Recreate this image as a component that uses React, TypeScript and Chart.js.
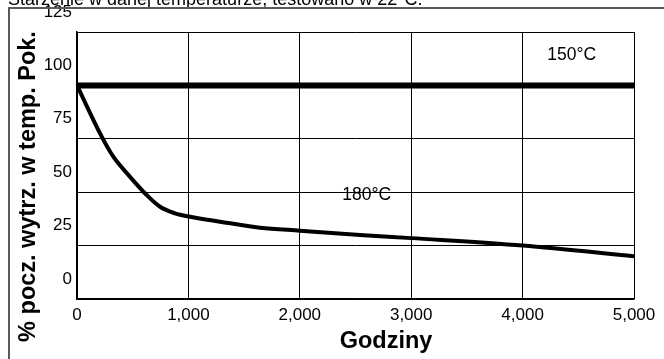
import React, { useEffect, useRef } from "react";
import { Chart, registerables } from "chart.js";

Chart.register(...registerables);

const titleText = "Starzenie w danej temperaturze, testowano w 22°C.";
const xAxisTitle = "Godziny";
const yAxisTitle = "% pocz. wytrz. w temp. Pok.";

const hours180 = [0, 222, 326, 476, 625, 745, 880, 1014, 1284, 1643, 2002, 2540, 3000, 4000, 5000];
const values180 = [100, 76, 66.6, 57.2, 48.7, 43.2, 40.1, 38.5, 36.2, 33.4, 32, 30, 28.5, 25, 20];
const hours150 = [0, 5000];
const values150 = [100, 100];

const xTicks = [0, 1000, 2000, 3000, 4000, 5000];
const xTickLabels = ["0", "1,000", "2,000", "3,000", "4,000", "5,000"];
const yTicks = [0, 25, 50, 75, 100, 125];
const yTickLabels = ["0", "25", "50", "75", "100", "125"];

const label150 = "150°C";
const label180 = "180°C";

const FONT = "'Liberation Sans', Arial, Helvetica, sans-serif";
const OFFSET_Y = 12;

const annotationPlugin = {
  id: "annotationsAndFrame",
  afterDraw(chart: any) {
    const ctx = chart.ctx;
    const area = chart.chartArea;
    ctx.save();
    // frame
    ctx.strokeStyle = "#5a5a5a";
    ctx.lineWidth = 2;
    ctx.beginPath();
    ctx.moveTo(9, chart.height);
    ctx.lineTo(9, 8 + OFFSET_Y);
    ctx.lineTo(chart.width, 8 + OFFSET_Y);
    ctx.stroke();

    ctx.fillStyle = "#000";
    ctx.textAlign = "center";
    ctx.textBaseline = "alphabetic";
    ctx.font = `17.5px ${FONT}`;
    const x = chart.scales.x;
    const y = chart.scales.y;
    ctx.fillText(label150, x.getPixelForValue(4440), y.getPixelForValue(115) + 6.5);
    ctx.fillText(label180, x.getPixelForValue(2600), y.getPixelForValue(50) + 7.5);

    ctx.font = `bold 23.5px ${FONT}`;
    ctx.fillText(xAxisTitle, 386, 348 + OFFSET_Y);

    ctx.translate(35, (area.top + area.bottom) / 2 + 21);
    ctx.rotate(-Math.PI / 2);
    ctx.fillText(yAxisTitle, 0, 0);
    ctx.restore();
  },
};

export default function App() {
  const ref = useRef<HTMLCanvasElement | null>(null);

  useEffect(() => {
    if (!ref.current) return;
    const chart = new Chart(ref.current, {
      type: "line",
      data: {
        datasets: [
          {
            label: label150,
            data: hours150.map((h, i) => ({ x: h, y: values150[i] })),
            borderColor: "#000",
            borderWidth: 6,
            pointRadius: 0,
            borderCapStyle: "butt",
          },
          {
            label: label180,
            data: hours180.map((h, i) => ({ x: h, y: values180[i] })),
            borderColor: "#000",
            borderWidth: 4,
            pointRadius: 0,
            cubicInterpolationMode: "monotone",
            borderCapStyle: "butt",
            borderJoinStyle: "round",
          },
        ],
      },
      options: {
        responsive: false,
        animation: false,
        layout: { padding: { left: 8, right: 30, top: 0, bottom: 0 } },
        plugins: {
          legend: { display: false },
          tooltip: { enabled: false },
          title: {
            display: true,
            text: titleText,
            align: "start",
            color: "#000",
            font: { family: FONT, size: 18, weight: "normal" },
            padding: { top: 1, bottom: 21.4 },
          },
        },
        scales: {
          x: {
            type: "linear",
            min: 0,
            max: 5000,
            afterBuildTicks: (s: any) => {
              s.ticks = xTicks.map((v) => ({ value: v }));
            },
            afterFit: (s: any) => {
              s.height = 60;
            },
            ticks: {
              color: "#000",
              font: { family: FONT, size: 17 },
              padding: 6.5,
              maxRotation: 0,
              callback: (v: any) => xTickLabels[xTicks.indexOf(Number(v))] ?? "",
            },
            grid: { color: "#000", lineWidth: 1, drawTicks: false },
            border: { color: "#000", width: 1.5 },
          },
          y: {
            type: "linear",
            min: 0,
            max: 125,
            afterBuildTicks: (s: any) => {
              s.ticks = yTicks.map((v) => ({ value: v }));
            },
            afterFit: (s: any) => {
              s.width = 69;
            },
            ticks: {
              color: "#000",
              font: { family: FONT, size: 17 },
              padding: 5,
              labelOffset: -20,
              callback: (v: any) => yTickLabels[yTicks.indexOf(Number(v))] ?? "",
            },
            grid: { color: "#000", lineWidth: 1, drawTicks: false },
            border: { color: "#000", width: 1.5 },
          },
        },
      },
      plugins: [annotationPlugin],
    } as any);
    return () => chart.destroy();
  }, []);

  return (
    <div style={{ position: "absolute", left: 0, top: -OFFSET_Y, width: 664, height: 359 + OFFSET_Y, overflow: "hidden" }}>
      <canvas ref={ref} width={664} height={359 + OFFSET_Y} style={{ display: "block" }} />
    </div>
  );
}
